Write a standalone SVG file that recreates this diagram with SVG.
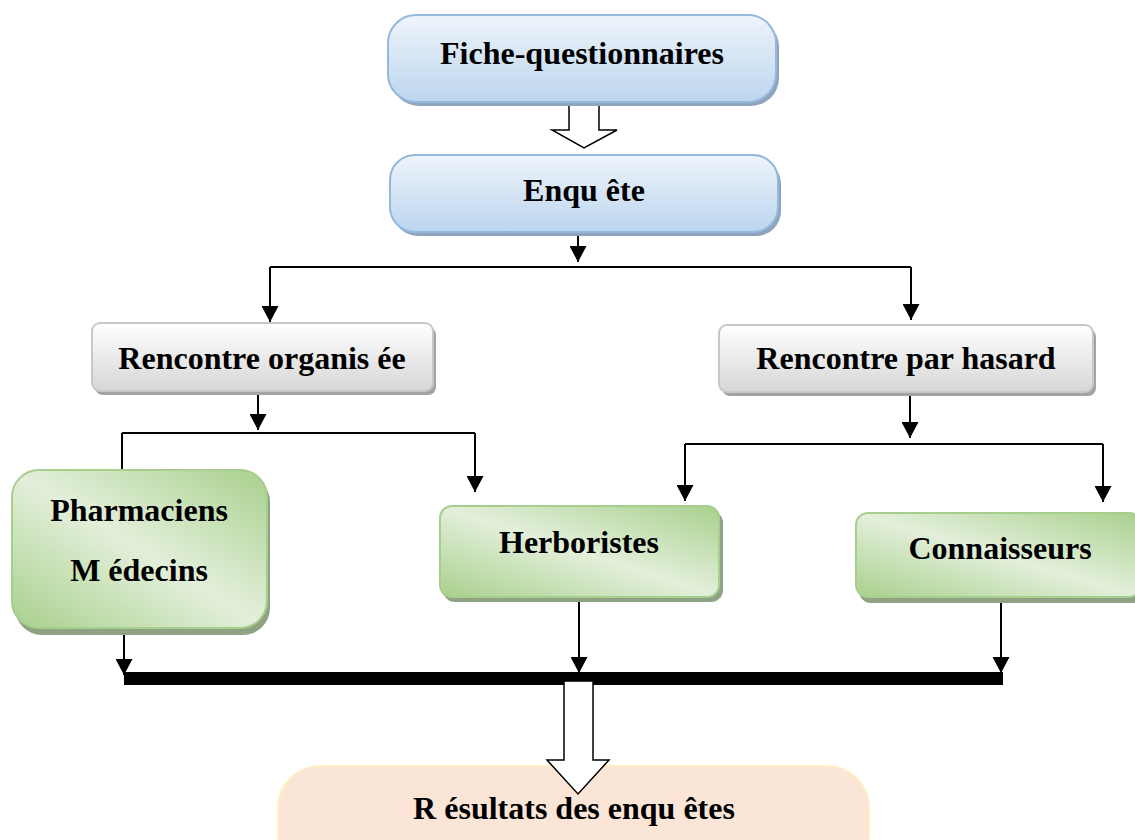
<svg xmlns="http://www.w3.org/2000/svg" width="1135" height="840" viewBox="0 0 1135 840">
<defs>
<linearGradient id="gBlue" x1="0" y1="0" x2="0" y2="1">
<stop offset="0" stop-color="#EEF4FB"/>
<stop offset="1" stop-color="#BCD5EE"/>
</linearGradient>
<linearGradient id="gGray" x1="0" y1="0" x2="0" y2="1">
<stop offset="0" stop-color="#FFFFFF"/>
<stop offset="1" stop-color="#D6D6D6"/>
</linearGradient>
<linearGradient id="gGreen" x1="1" y1="0" x2="0" y2="1">
<stop offset="0" stop-color="#A8D08D"/>
<stop offset="0.5" stop-color="#E3EFDA"/>
<stop offset="1" stop-color="#A8D08D"/>
</linearGradient>
<marker id="ah" viewBox="0 0 16 16" refX="15" refY="8" markerWidth="17" markerHeight="17" markerUnits="userSpaceOnUse" orient="auto">
<path d="M0,0 L15,8 L0,16 z" fill="#000"/>
</marker>
<style>
text{font-family:"Liberation Serif","Times New Roman",serif;font-weight:bold;font-size:32px;fill:#000;text-anchor:middle}
.sb{fill:#8DA3BE}
.b{fill:url(#gBlue);stroke:#95B8DD;stroke-width:2}
.sg{fill:#A3A3A3}
.g{fill:url(#gGray);stroke:#C8C8C8;stroke-width:2}
.sgr{fill:#8FA283}
.gr{fill:url(#gGreen);stroke:#A6CE8C;stroke-width:2}
.r{fill:#FBE5D7;stroke:#FFF0C4;stroke-width:2}
.ln{fill:none;stroke:#000;stroke-width:2}
.ar{fill:none;stroke:#000;stroke-width:2;marker-end:url(#ah)}
.hol{fill:#fff;stroke:#000;stroke-width:1.5}
</style>
</defs>

<g id="connectors">
<path class="ar" d="M578,233 V262"/>
<path class="ln" d="M270,267 H911"/>
<path class="ar" d="M270,267 V322"/>
<path class="ar" d="M911,267 V320"/>
<path class="ar" d="M258,392 V430"/>
<path class="ln" d="M122,433 H475"/>
<path class="ln" d="M122,433 V470"/>
<path class="ar" d="M475,433 V492"/>
<path class="ar" d="M910,393 V438"/>
<path class="ln" d="M685,444 H1103"/>
<path class="ar" d="M685,444 V501"/>
<path class="ar" d="M1103,444 V502"/>
<path class="ar" d="M124,628 V675"/>
<path class="ar" d="M579,597 V673"/>
<path class="ar" d="M1001,597 V673"/>
<rect x="124" y="672" width="879" height="13" fill="#000"/>
<polygon class="hol" points="569,103 599,103 599,130 617,130 584,148 552,130 569,130"/>
</g>

<g id="node-fiche">
<rect class="sb" x="391" y="19" width="388" height="87" rx="28"/>
<rect class="b" x="388" y="15" width="388" height="87" rx="28"/>
<text x="582" y="64">Fiche-questionnaires</text>
</g>

<g id="node-enquete">
<rect class="sb" x="393" y="159" width="388" height="77" rx="25"/>
<rect class="b" x="390" y="155" width="388" height="77" rx="25"/>
<text x="584" y="201">Enqu ête</text>
</g>

<g id="node-rencontre-organisee">
<rect class="sg" x="95" y="327" width="341" height="68" rx="8"/>
<rect class="g" x="92" y="323" width="341" height="68" rx="8"/>
<text x="262" y="369">Rencontre organis ée</text>
</g>

<g id="node-rencontre-hasard">
<rect class="sg" x="722" y="329" width="374" height="67" rx="8"/>
<rect class="g" x="719" y="325" width="374" height="67" rx="8"/>
<text x="906" y="369">Rencontre par hasard</text>
</g>

<g id="node-pharmaciens">
<rect class="sgr" x="15" y="475" width="255" height="160" rx="27"/>
<rect class="gr" x="12" y="470" width="255" height="158" rx="27"/>
<text x="139" y="521">Pharmaciens</text>
<text x="139" y="581">M édecins</text>
</g>

<g id="node-herboristes">
<rect class="sgr" x="443" y="511" width="280" height="91" rx="12"/>
<rect class="gr" x="440" y="506" width="279" height="91" rx="12"/>
<text x="579" y="553">Herboristes</text>
</g>

<g id="node-connaisseurs">
<rect class="sgr" x="859" y="518" width="285" height="85" rx="12"/>
<rect class="gr" x="856" y="513" width="285" height="84" rx="12"/>
<text x="1000" y="559">Connaisseurs</text>
</g>

<g id="node-resultats">
<rect class="r" x="278" y="766" width="591" height="110" rx="42"/>
<text x="574" y="819">R ésultats des enqu êtes</text>
</g>

<g id="connector-results-arrow">
<polygon class="hol" points="564,681 593,681 593,760 609,760 578,794 547,760 564,760"/>
</g>
</svg>
